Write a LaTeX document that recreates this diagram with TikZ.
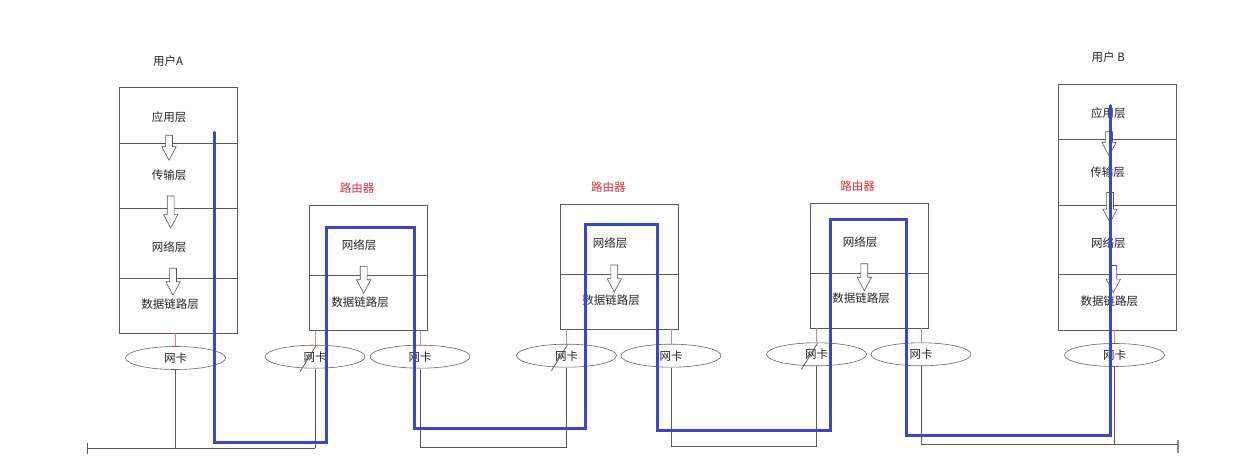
\documentclass[tikz,border=0pt]{standalone}
\usepackage{fontspec}
\setmainfont{Noto Sans CJK SC}
\usepackage{xcolor}
\usepackage{tikz}
\usetikzlibrary{shapes.geometric,shapes.arrows}

\definecolor{routeblue}{RGB}{58,70,204}
\definecolor{titlered}{RGB}{222,50,62}

\begin{document}
\begin{tikzpicture}[
	x=1pt, y=-1pt,
	font=\fontsize{11.5}{13}\selectfont,
	layer/.style={
		rectangle, draw=black!65, line width=0.7pt,
		minimum width=118pt, inner sep=0pt
	},
	ltext/.style={inner sep=0pt, text=black!85},
	rtitle/.style={inner sep=0pt, text=titlered},
	nic/.style={
		ellipse, draw=black!60, line width=0.6pt,
		minimum width=100pt, minimum height=23pt, inner sep=0pt,
		text=black!85
	},
	downarr/.style={
		single arrow, draw=black!65, fill=white, line width=0.6pt,
		rotate=-90, inner xsep=0pt, inner ysep=3.15pt,
		single arrow head extend=3.7pt, single arrow tip angle=56
	},
	wire/.style={draw=black!65, line width=0.8pt},
	tap/.style={draw=red!55, line width=0.7pt},
	route/.style={draw=routeblue, line width=3pt, line cap=round}
	]
	\useasboundingbox[fill=white] (0,0) rectangle (1251,473);

	%% ─── USER A ──────────────────────────────────────────────────────────────
	\node[ltext] (titleA) at (168,61) {用户A};
	\node[layer, minimum height=55.7pt] (aApp)   at (178,115.2) {};
	\node[layer, minimum height=65.7pt] (aTrans) at (178,175.9) {};
	\node[layer, minimum height=69.3pt] (aNet)   at (178,243.4) {};
	\node[layer, minimum height=55pt]   (aLink)  at (178,305.5) {};
	\node[downarr, minimum height=25pt] (aArr1) at (169,144.5) {};
	\node[downarr, minimum height=32pt] (aArr2) at (170.7,208.8) {};
	\node[downarr, minimum height=27pt] (aArr3) at (173,278.5) {};
	\node[ltext] (aAppT)   at (169,117) {应用层};
	\node[ltext] (aTransT) at (169,175) {传输层};
	\node[ltext] (aNetT)   at (169,247) {网络层};
	\node[ltext] (aLinkT)  at (170,304) {数据链路层};
	\node[nic] (nicA) at (175.5,358) {网卡};

	%% ─── ROUTER 1 ────────────────────────────────────────────────────────────
	\node[rtitle] (titleR1) at (357,188) {路由器};
	\node[layer, minimum height=69.3pt] (r1Net)  at (368.3,240.4) {};
	\node[layer, minimum height=55.3pt] (r1Link) at (368.3,302.7) {};
	\node[downarr, minimum height=27pt] (r1Arr) at (363.7,276.5) {};
	\node[ltext] (r1NetT)  at (359,244.7) {网络层};
	\node[ltext] (r1LinkT) at (360,301.7) {数据链路层};
	\node[nic] (r1L) at (315,356.7) {网卡};
	\node[nic] (r1R) at (420,356.7) {网卡};

	%% ─── ROUTER 2 ────────────────────────────────────────────────────────────
	\node[rtitle] (titleR2) at (608.3,187.3) {路由器};
	\node[layer, minimum height=70pt]   (r2Net)  at (619.5,239.3) {};
	\node[layer, minimum height=54.7pt] (r2Link) at (619.5,301.7) {};
	\node[downarr, minimum height=27pt] (r2Arr) at (614.3,275.3) {};
	\node[ltext] (r2NetT)  at (610,242.7) {网络层};
	\node[ltext] (r2LinkT) at (611,300) {数据链路层};
	\node[nic] (r2L) at (566.5,355.7) {网卡};
	\node[nic] (r2R) at (671,355.7) {网卡};

	%% ─── ROUTER 3 ────────────────────────────────────────────────────────────
	\node[rtitle] (titleR3) at (857.7,185.7) {路由器};
	\node[layer, minimum height=69.7pt] (r3Net)  at (869.2,238.2) {};
	\node[layer, minimum height=55pt]   (r3Link) at (869.2,300.5) {};
	\node[downarr, minimum height=27pt] (r3Arr) at (864.3,274) {};
	\node[ltext] (r3NetT)  at (860,241.7) {网络层};
	\node[ltext] (r3LinkT) at (861,298.3) {数据链路层};
	\node[nic] (r3L) at (816.5,354.3) {网卡};
	\node[nic] (r3R) at (921,354.3) {网卡};

	%% ─── USER B ──────────────────────────────────────────────────────────────
	\node[ltext] (titleB) at (1108.3,56.7) {用户 B};
	\node[layer, minimum height=55.3pt] (bApp)   at (1117.7,111.7) {};
	\node[layer, minimum height=65.7pt] (bTrans) at (1117.7,172.2) {};
	\node[layer, minimum height=69.3pt] (bNet)   at (1117.7,239.7) {};
	\node[layer, minimum height=55.7pt] (bLink)  at (1117.7,302.2) {};
	\node[downarr, minimum height=24pt] (bArr1) at (1109,140.5) {};
	\node[downarr, minimum height=30pt] (bArr2) at (1110,204.3) {};
	\node[downarr, minimum height=27pt] (bArr3) at (1113.3,275.8) {};
	\node[ltext] (bAppT)   at (1108.3,113.3) {应用层};
	\node[ltext] (bTransT) at (1107.7,171.7) {传输层};
	\node[ltext] (bNetT)   at (1108.3,243.3) {网络层};
	\node[ltext] (bLinkT)  at (1109.3,301) {数据链路层};
	\node[nic] (nicB) at (1114.5,355) {网卡};

	%% ─── NIC TAPS AND LINKS ──────────────────────────────────────────────────
	\draw[tap] (nicA.north |- aLink.south) -- (nicA.north);
	\draw[tap] (r1L.north |- r1Link.south) -- (r1L.north);
	\draw[tap] (r1R.north |- r1Link.south) -- (r1R.north);
	\draw[tap] (r2L.north |- r2Link.south) -- (r2L.north);
	\draw[tap] (r2R.north |- r2Link.south) -- (r2R.north);
	\draw[tap] (r3L.north |- r3Link.south) -- (r3L.north);
	\draw[tap] (r3R.north |- r3Link.south) -- (r3R.north);
	\draw[tap] (nicB.north |- bLink.south) -- (nicB.north);

	\draw[wire] (r1L) ++(-15,15) -- ++(16,-26);
	\draw[wire] (r2L) ++(-15,15) -- ++(16,-26);
	\draw[wire] (r3L) ++(-15,15) -- ++(16,-26);

	\coordinate (busA) at (87,448);
	\coordinate (busB) at (420,447.3);
	\coordinate (busC) at (671,446);
	\coordinate (busD) at (1178,444.3);
	\draw[wire] (busA) ++(0,-5.3) -- ++(0,11.3);
	\draw[wire] (busA) -- (r1L.south |- busA);
	\draw[wire] (nicA.south) -- (nicA.south |- busA);
	\draw[wire] (r1L.south) -- (r1L.south |- busA);
	\draw[wire] (r1R.south) -- (busB) -- (r2L.south |- busB) -- (r2L.south);
	\draw[wire] (r2R.south) -- (busC) -- (r3L.south |- busC) -- (r3L.south);
	\draw[wire] (r3R.south) -- (r3R.south |- busD) -- (busD);
	\draw[wire] (nicB.south) -- (nicB.south |- busD);
	\draw[draw=black!45, line width=1.3pt] (busD) ++(0,-4.3) -- ++(0,12.7);

	%% ─── PACKET ROUTE ────────────────────────────────────────────────────────
	\coordinate (src) at (214.7,132.3);
	\coordinate (dst) at (1110.5,105.7);
	\draw[route] (src) |- (326,442.3) |- (414.3,227.3) |- (585.7,428.7)
		|- (657.3,224.3) |- (830.7,430.7) |- (906,220) |- (1110.5,435.3) -- (dst);
\end{tikzpicture}
\end{document}
